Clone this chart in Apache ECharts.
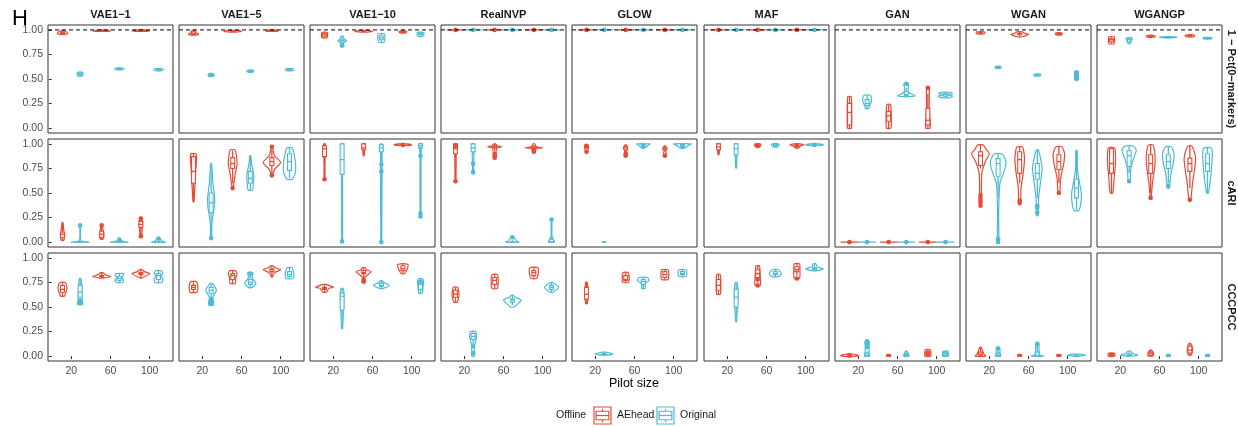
<!DOCTYPE html>
<html><head><meta charset="utf-8">
<script src="https://cdn.jsdelivr.net/npm/echarts@6/dist/echarts.min.js"></script>
<style>html,body{margin:0;padding:0;background:#fff}#c{width:1238px;height:427px}</style>
</head><body><div id="c"></div>
<script>
const methods = ['VAE1\u22121','VAE1\u22125','VAE1\u221210','RealNVP','GLOW','MAF','GAN','WGAN','WGANGP'];
const metrics = ['1 \u2212 Pct(0\u2212markers)','cARI','CCCPCC'];
const pilotSizes = [20, 60, 100];
const offlineGroups = ['AEhead','Original'];
const groupColors = ['#E64B35','#4DBBD5'];
const yTicks = [0, 0.25, 0.5, 0.75, 1];

// each violin: [lowerWhisker, q1, median, q3, upperWhisker, outliers, densityProfile[[y, relDensity]]]
// order per method: (20,AEhead),(20,Original),(60,AEhead),(60,Original),(100,AEhead),(100,Original)
const pctViolins = [
 [[.96,.965,.97,.98,.99,[],[[.955,.35],[.965,.6],[.975,.5],[.99,.25]]],
  [.53,.54,.55,.56,.57,[],[[.53,.25],[.55,.35],[.57,.2]]],
  [.985,.99,.99,.995,1,[],[[.985,.3],[.99,1],[.995,.6],[1,.2]]],
  [.595,.6,.605,.61,.61,[],[[.595,.35],[.605,.55],[.612,.35]]],
  [.985,.99,.99,.995,1,[],[[.985,.3],[.99,1],[1,.3]]],
  [.585,.59,.595,.6,.605,[],[[.585,.35],[.595,.55],[.605,.35]]]],
 [[.95,.955,.96,.98,.99,[],[[.95,.5],[.96,.55],[.97,.3],[.985,.25],[.995,.15]]],
  [.53,.535,.54,.545,.55,[],[[.525,.25],[.54,.35],[.555,.2]]],
  [.98,.985,.985,.99,.995,[],[[.978,.4],[.985,1],[.995,.3]]],
  [.57,.575,.58,.585,.59,[],[[.57,.25],[.58,.4],[.59,.25]]],
  [.985,.99,.99,.995,1,[],[[.985,.3],[.99,.7],[1,.3]]],
  [.59,.59,.595,.6,.6,[],[[.585,.35],[.595,.5],[.605,.35]]]],
 [[.92,.93,.95,.96,.975,[],[[.92,.3],[.95,.35],[.975,.3]]],
  [.86,.875,.89,.9,.93,[.84],[[.835,.2],[.85,.15],[.87,.2],[.89,.5],[.91,.2],[.935,.15]]],
  [.98,.985,.985,.99,1,[],[[.978,.3],[.985,1],[.995,.4]]],
  [.88,.9,.92,.94,.96,[],[[.875,.3],[.92,.4],[.96,.35]]],
  [.97,.975,.98,.985,.99,[],[[.97,.3],[.98,.45],[.99,.3]]],
  [.94,.95,.96,.965,.975,[],[[.935,.3],[.96,.4],[.975,.35]]]],
 [[1,1,1,1,1,[1],[[1,1],[1,1]]],[1,1,1,1,1,[1],[[1,1],[1,1]]],[1,1,1,1,1,[1],[[1,1],[1,1]]],
  [1,1,1,1,1,[1],[[1,1],[1,1]]],[1,1,1,1,1,[1],[[1,1],[1,1]]],[1,1,1,1,1,[1],[[1,1],[1,1]]]],
 [[1,1,1,1,1,[1],[[1,1],[1,1]]],[1,1,1,1,1,[1],[[1,1],[1,1]]],[1,1,1,1,1,[1],[[1,1],[1,1]]],
  [1,1,1,1,1,[1],[[1,1],[1,1]]],[1,1,1,1,1,[1],[[1,1],[1,1]]],[1,1,1,1,1,[1],[[1,1],[1,1]]]],
 [[1,1,1,1,1,[1],[[1,1],[1,1]]],[1,1,1,1,1,[1],[[1,1],[1,1]]],[1,1,1,1,1,[1],[[1,1],[1,1]]],
  [1,1,1,1,1,[1],[[1,1],[1,1]]],[1,1,1,1,1,[1],[[1,1],[1,1]]],[1,1,1,1,1,[1],[[1,1],[1,1]]]],
 [[0,.03,.16,.25,.32,[],[[0,.22],[.16,.25],[.32,.2]]],
  [.2,.23,.25,.29,.33,[],[[.2,.2],[.23,.3],[.26,.45],[.3,.5],[.335,.35]]],
  [0,.07,.125,.17,.24,[],[[0,.25],[.12,.3],[.24,.2]]],
  [.32,.33,.34,.37,.41,[.45],[[.32,.3],[.33,1],[.36,.3],[.41,.2],[.45,.3]]],
  [0,.03,.08,.2,.35,[.41],[[0,.25],[.08,.25],[.2,.15],[.41,.15]]],
  [.31,.325,.34,.355,.365,[],[[.31,.5],[.325,.8],[.34,.3],[.355,.8],[.365,.5]]]],
 [[.965,.97,.97,.975,.98,[],[[.96,.4],[.97,.5],[.98,.4]]],
  [.61,.615,.62,.625,.63,[],[[.61,.25],[.62,.35],[.63,.25]]],
  [.93,.95,.96,.965,.98,[],[[.93,.3],[.955,1],[.965,.6],[.98,.3]]],
  [.535,.54,.54,.545,.55,[],[[.53,.3],[.54,.4],[.55,.3]]],
  [.95,.955,.96,.965,.97,[],[[.95,.3],[.96,.4],[.97,.3]]],
  [.5,.52,.545,.56,.58,[.5,.52,.56],[[.5,.2],[.54,.2],[.58,.2]]]],
 [[.86,.88,.9,.91,.93,[],[[.86,.3],[.9,.35],[.93,.3]]],
  [.86,.88,.9,.91,.92,[],[[.86,.1],[.89,.25],[.915,.35],[.92,.3]]],
  [.93,.933,.935,.94,.945,[],[[.925,.3],[.935,.55],[.945,.3]]],
  [.92,.922,.925,.928,.93,[],[[.918,.4],[.925,1],[.932,.4]]],
  [.93,.935,.94,.945,.95,[],[[.93,.4],[.94,.55],[.95,.4]]],
  [.91,.912,.915,.918,.92,[],[[.908,.45],[.915,.5],[.922,.45]]]]
];

const cariViolins = [
 [[.02,.05,.08,.1,.2,[],[[.02,.15],[.08,.25],[.12,.15],[.2,.05]]],
  [0,0,0,0,0,[.17],[[0,1],[.01,.15],[.05,.03],[.17,.03]]],
  [.03,.05,.08,.11,.15,[.17],[[.03,.15],[.08,.25],[.13,.15],[.17,.05]]],
  [0,0,0,0,0,[.025],[[0,1],[.01,.3],[.03,.1]]],
  [.06,.15,.18,.21,.24,[.06,.24],[[.06,.1],[.15,.15],[.2,.2],[.25,.1]]],
  [0,0,0,0,.01,[.035],[[0,.8],[.01,.4],[.035,.15]]]],
 [[.41,.6,.72,.87,.9,[],[[.41,.05],[.55,.15],[.72,.25],[.85,.35],[.9,.3]]],
  [.08,.3,.4,.5,.8,[.04],[[.04,.05],[.2,.1],[.35,.35],[.45,.4],[.6,.2],[.8,.05]]],
  [.6,.75,.8,.86,.93,[.55],[[.55,.05],[.7,.3],[.8,.5],[.9,.4],[.94,.25]]],
  [.53,.6,.65,.72,.88,[],[[.53,.25],[.6,.35],[.68,.4],[.8,.15],[.88,.05]]],
  [.7,.78,.82,.86,.94,[.68,.97],[[.68,.05],[.74,.3],[.81,1],[.88,.3],[.97,.05]]],
  [.65,.73,.82,.9,.96,[],[[.64,.3],[.7,.65],[.78,.7],[.88,.55],[.96,.3]]]],
 [[.8,.87,.95,.98,1,[.64],[[.64,.05],[.8,.05],[.95,.1],[1,.1]]],
  [.007,.69,.84,1,1,[.007],[[.007,.05],[.69,.05],[.85,.1],[1,.1]]],
  [.88,.94,.96,1,1,[],[[.88,.05],[.96,.12],[1,.12]]],
  [0,.92,.96,.99,1,[.72,.79,0],[[0,.05],[.9,.08],[.97,.12],[1,.1]]],
  [.985,.99,.99,.995,1,[.99],[[.985,.5],[.99,1],[1,.5]]],
  [.26,.96,.98,1,1,[.88,.29,.26],[[.26,.05],[.9,.05],[.98,.12],[1,.12]]]],
 [[.85,.9,.95,1,1,[.62,.98],[[.62,.05],[.9,.08],[.97,.12],[1,.1]]],
  [.9,.92,.96,1,1,[.8,.71],[[.71,.05],[.92,.1],[1,.1]]],
  [.93,.96,.97,.98,1,[.9,.88,.86],[[.86,.1],[.92,.15],[.96,.3],[.97,.8],[.98,.3],[1,.1]]],
  [0,0,0,0,.02,[.05],[[0,.75],[.01,.5],[.03,.3],[.05,.15]]],
  [.94,.955,.96,.97,.99,[.92,.93],[[.92,.1],[.955,.3],[.96,1],[.97,.3],[1,.1]]],
  [0,0,0,.03,.06,[.23],[[0,.35],[.03,.2],[.06,.05],[.23,.05]]]],
 [[.95,.96,.97,.98,.99,[.92,.98],[[.92,.1],[.97,.2],[.99,.15]]],
  [0,0,0,0,0,[],[[0,.15],[0,.15]]],
  [.92,.94,.96,.97,.99,[.88,.9],[[.88,.15],[.92,.1],[.96,.2],[.99,.1]]],
  [.97,.985,.99,1,1,[.97],[[.965,.3],[.985,.5],[1,.75]]],
  [.92,.94,.95,.96,.98,[.88],[[.88,.15],[.93,.1],[.96,.15],[.98,.1]]],
  [.96,.98,.99,1,1,[.97],[[.96,.3],[.98,.6],[1,1]]]],
 [[.89,.94,.97,1,1,[],[[.89,.05],[.95,.12],[1,.12]]],
  [.755,.89,.95,1,1,[],[[.755,.05],[.89,.1],[1,.12]]],
  [.97,.98,.985,.99,1,[.98],[[.97,.25],[.985,.35],[1,.3]]],
  [.97,.98,.99,1,1,[],[[.97,.25],[.99,.45],[1,.3]]],
  [.96,.98,.985,.99,1,[.985],[[.96,.2],[.985,.5],[.99,.8],[1,.3]]],
  [.985,.99,.99,.995,1,[.99],[[.985,.5],[.99,1],[1,.5]]]],
 [[0,0,0,0,0,[0],[[0,1],[0,1]]],[0,0,0,0,0,[0],[[0,1],[0,1]]],[0,0,0,0,0,[0],[[0,1],[0,1]]],
  [0,0,0,0,0,[0],[[0,1],[0,1]]],[0,0,0,0,0,[0],[[0,1],[0,1]]],[0,0,0,0,0,[0],[[0,1],[0,1]]]],
 [[.75,.78,.88,.92,.99,[.37,.4,.42,.45,.48],[[.37,.08],[.5,.1],[.7,.15],[.82,.55],[.9,1],[.95,.6],[.99,.3]]],
  [.45,.67,.8,.85,.9,[0,.03],[[0,.08],[.3,.06],[.6,.2],[.7,.6],[.8,.9],[.85,.8],[.9,.4]]],
  [.6,.7,.84,.92,.97,[.4,.42],[[.38,.1],[.55,.15],[.7,.4],[.85,.55],[.93,.45],[.97,.3]]],
  [.45,.64,.7,.8,.94,[.3,.35,.37],[[.27,.1],[.45,.15],[.6,.35],[.75,.55],[.88,.3],[.94,.1]]],
  [.6,.74,.82,.89,.97,[.5],[[.5,.1],[.65,.2],[.8,.55],[.9,.65],[.97,.35]]],
  [.32,.45,.55,.64,.93,[],[[.32,.25],[.4,.5],[.5,.55],[.6,.35],[.75,.1],[.93,.08]]]],
 [[.5,.7,.8,.95,.96,[],[[.5,.15],[.65,.3],[.8,.45],[.9,.45],[.96,.35]]],
  [.7,.77,.88,.93,.98,[.62],[[.62,.1],[.75,.2],[.85,.5],[.93,.8],[.97,.6],[.98,.3]]],
  [.5,.7,.8,.89,.99,[.45],[[.45,.05],[.6,.2],[.8,.5],[.92,.45],[.99,.25]]],
  [.6,.75,.82,.89,.97,[.57],[[.55,.1],[.7,.3],[.82,.6],[.9,.65],[.97,.35]]],
  [.55,.72,.8,.855,.98,[.43],[[.43,.1],[.6,.3],[.75,.55],[.85,.65],[.92,.5],[.98,.2]]],
  [.5,.72,.8,.9,.96,[],[[.5,.1],[.65,.35],[.8,.5],[.9,.55],[.96,.4]]]]
];

const cccpccViolins = [
 [[.61,.65,.68,.72,.75,[],[[.61,.2],[.65,.4],[.7,.5],[.75,.3]]],
  [.58,.6,.65,.72,.79,[.54,.55,.56],[[.525,.3],[.56,.25],[.65,.2],[.79,.1]]],
  [.795,.805,.81,.82,.85,[],[[.795,.2],[.81,1],[.83,.4],[.85,.1]]],
  [.75,.77,.79,.81,.84,[],[[.75,.3],[.77,.5],[.8,.3],[.83,.5],[.84,.3]]],
  [.795,.83,.84,.85,.88,[],[[.795,.1],[.84,1],[.86,.4],[.88,.15]]],
  [.75,.78,.82,.84,.87,[],[[.75,.4],[.79,.5],[.81,.25],[.84,.5],[.87,.3]]]],
 [[.65,.68,.7,.72,.76,[],[[.65,.4],[.7,.5],[.76,.3]]],
  [.6,.64,.67,.7,.74,[.53,.55,.58],[[.52,.3],[.6,.2],[.67,.6],[.74,.1]]],
  [.74,.78,.82,.84,.87,[],[[.74,.3],[.8,.35],[.84,.5],[.87,.3]]],
  [.7,.73,.75,.78,.84,[.84],[[.7,.2],[.74,.65],[.8,.2],[.85,.3]]],
  [.805,.86,.88,.89,.92,[],[[.805,.05],[.85,.3],[.88,1],[.9,.4],[.92,.1]]],
  [.79,.81,.83,.86,.9,[],[[.79,.4],[.82,.5],[.86,.45],[.9,.3]]]],
 [[.65,.68,.69,.7,.73,[],[[.65,.2],[.69,.5],[.7,1],[.73,.15]]],
  [.28,.47,.61,.64,.69,[],[[.28,.05],[.47,.15],[.65,.2],[.69,.1]]],
  [.8,.84,.85,.87,.9,[.76,.78],[[.75,.2],[.8,.1],[.86,.85],[.88,.3],[.9,.2]]],
  [.69,.71,.72,.74,.77,[],[[.69,.2],[.72,.9],[.75,.3],[.77,.05]]],
  [.84,.87,.89,.92,.94,[],[[.84,.2],[.89,.5],[.93,.6],[.94,.3]]],
  [.64,.68,.73,.76,.79,[.76],[[.64,.2],[.72,.3],[.76,.35],[.79,.2]]]],
 [[.55,.6,.63,.67,.7,[],[[.55,.2],[.63,.4],[.7,.25]]],
  [.12,.17,.2,.23,.25,[.03,.1],[[0,.15],[.1,.15],[.2,.4],[.25,.3]]],
  [.69,.73,.77,.8,.83,[],[[.69,.3],[.77,.4],[.83,.3]]],
  [.52,.55,.57,.58,.62,[],[[.5,.2],[.57,1],[.6,.3],[.62,.1]]],
  [.79,.82,.85,.87,.9,[],[[.79,.3],[.84,.5],[.9,.45]]],
  [.65,.68,.7,.72,.75,[],[[.65,.15],[.7,.8],[.75,.15]]]],
 [[.535,.58,.63,.7,.75,[],[[.535,.1],[.63,.15],[.75,.1]]],
  [.01,.015,.02,.025,.04,[],[[.01,.2],[.02,1],[.04,.2]]],
  [.75,.77,.78,.82,.85,[],[[.75,.3],[.78,.4],[.85,.3]]],
  [.69,.73,.76,.78,.8,[],[[.69,.2],[.74,.2],[.77,.65],[.8,.5]]],
  [.78,.8,.83,.86,.88,[],[[.78,.35],[.83,.45],[.88,.35]]],
  [.81,.83,.84,.86,.88,[],[[.81,.4],[.845,.5],[.88,.4]]]],
 [[.63,.67,.72,.78,.83,[],[[.63,.2],[.72,.27],[.83,.2]]],
  [.35,.5,.6,.68,.75,[],[[.35,.05],[.5,.15],[.65,.2],[.75,.1]]],
  [.75,.8,.84,.88,.92,[.72,.78],[[.72,.3],[.8,.3],[.88,.25],[.92,.2]]],
  [.81,.83,.84,.86,.88,[],[[.81,.4],[.84,.7],[.88,.35]]],
  [.82,.86,.88,.91,.94,[.79],[[.79,.3],[.88,.35],[.94,.3]]],
  [.87,.88,.89,.9,.94,[],[[.87,.3],[.89,1],[.91,.3],[.94,.15]]]],
 [[0,0,.005,.01,.02,[.005],[[-.005,.4],[.005,1],[.02,.3]]],
  [0,0,.01,.03,.05,[.09,.12,.15],[[0,.3],[.02,.25],[.09,.2],[.15,.25]]],
  [0,0,.005,.01,.015,[],[[0,.2],[.015,.2]]],
  [0,0,.01,.02,.05,[],[[0,.3],[.01,.3],[.05,.1]]],
  [0,.01,.03,.05,.065,[.03],[[0,.35],[.03,.35],[.065,.3]]],
  [0,.01,.025,.04,.05,[],[[0,.35],[.025,.3],[.05,.3]]]],
 [[0,.01,.02,.04,.09,[],[[0,.6],[.02,.4],[.05,.25],[.09,.1]]],
  [0,0,.01,.03,.06,[.08],[[0,.3],[.02,.2],[.08,.2]]],
  [0,0,.005,.01,.015,[],[[0,.2],[.015,.2]]],
  [0,0,.01,.04,.1,[.12],[[0,.7],[.01,.3],[.05,.2],[.14,.15]]],
  [0,0,.005,.01,.015,[],[[0,.2],[.015,.2]]],
  [0,0,.005,.01,.02,[],[[0,.4],[.008,1],[.02,.3]]]],
 [[0,.005,.01,.02,.03,[.01],[[0,.35],[.015,.4],[.03,.3]]],
  [0,.005,.01,.02,.05,[],[[0,.3],[.01,1],[.03,.3],[.05,.2]]],
  [0,.01,.03,.04,.06,[],[[0,.3],[.03,.3],[.06,.1]]],
  [0,0,.005,.01,.015,[],[[0,.2],[.015,.2]]],
  [.01,.03,.06,.1,.13,[],[[.01,.15],[.06,.3],[.1,.25],[.13,.1]]],
  [0,0,.005,.01,.015,[],[[0,.2],[.015,.2]]]]
];

const allViolins = [pctViolins, cariViolins, cccpccViolins];

const chart = echarts.init(document.getElementById('c'), null, {renderer: 'canvas'});
const panelLefts = [48, 179, 310, 441, 572, 704, 835, 966, 1097];
const panelTops = [25, 139, 253];
const PW = 125, PH = 108;
const DODGE = 9, HALF = 9, BOXHALF = 2;

function makeRender(violins) {
  return function (params, api) {
    const i = params.dataIndex;
    const v = violins[i];
    const g = i % 2;
    const p = pilotSizes[Math.floor(i / 2)];
    const xv = p + (g ? DODGE : -DODGE);
    const color = groupColors[g];
    const hw = api.size([HALF, 0])[0];
    const bw = api.size([BOXHALF, 0])[0];
    const cx = api.coord([xv, 0])[0];
    const Y = y => api.coord([xv, y])[1];
    const prof = v[6];
    const pts = [];
    prof.forEach(k => pts.push([cx - k[1] * hw, Y(k[0])]));
    for (let j = prof.length - 1; j >= 0; j--) pts.push([cx + prof[j][1] * hw, Y(prof[j][0])]);
    const ch = [];
    ch.push({type: 'polygon', shape: {points: pts, smooth: 0.2}, style: {fill: 'rgba(0,0,0,0)', stroke: color, lineWidth: 1.2}});
    ch.push({type: 'line', shape: {x1: cx, y1: Y(v[0]), x2: cx, y2: Y(v[1])}, style: {stroke: color, lineWidth: 1.3}});
    ch.push({type: 'line', shape: {x1: cx, y1: Y(v[3]), x2: cx, y2: Y(v[4])}, style: {stroke: color, lineWidth: 1.3}});
    ch.push({type: 'rect', shape: {x: cx - bw, y: Y(v[3]), width: 2 * bw, height: Math.max(0.01, Y(v[1]) - Y(v[3]))}, style: {fill: '#fff', stroke: color, lineWidth: 1.1}});
    ch.push({type: 'line', shape: {x1: cx - bw, y1: Y(v[2]), x2: cx + bw, y2: Y(v[2])}, style: {stroke: color, lineWidth: 1.3}});
    v[5].forEach(o => ch.push({type: 'circle', shape: {cx: cx, cy: Y(o), r: 2.3}, style: {fill: color}}));
    return {type: 'group', children: ch};
  };
}

const grids = [], xAxes = [], yAxes = [], series = [], graphics = [];
let gi = 0;
for (let r = 0; r < 3; r++) {
  for (let c = 0; c < 9; c++) {
    grids.push({left: panelLefts[c], top: panelTops[r], width: PW, height: PH, show: true,
      borderColor: '#333', borderWidth: 1, backgroundColor: 'transparent', containLabel: false});
    xAxes.push({type: 'value', gridIndex: gi, min: -3.8, max: 123.8, show: r === 2,
      axisLine: {show: false}, splitLine: {show: false},
      axisTick: {show: true, customValues: pilotSizes, length: 3, lineStyle: {color: '#333'}},
      axisLabel: {show: true, customValues: pilotSizes, color: '#4d4d4d', fontSize: 10.5, margin: 5, fontFamily: 'Liberation Sans'}});
    yAxes.push({type: 'value', gridIndex: gi, min: -0.05, max: 1.05, show: c === 0,
      axisLine: {show: false}, splitLine: {show: false},
      axisTick: {show: true, customValues: yTicks, length: 3, lineStyle: {color: '#333'}},
      axisLabel: {show: true, customValues: yTicks, color: '#4d4d4d', fontSize: 10.5, margin: 5, fontFamily: 'Liberation Sans',
        formatter: v => v.toFixed(2)}});
    const vs = allViolins[r][c];
    series.push({type: 'custom', xAxisIndex: gi, yAxisIndex: gi, renderItem: makeRender(vs),
      data: vs.map((v, i) => [pilotSizes[Math.floor(i / 2)] + (i % 2 ? DODGE : -DODGE), v[2]]),
      encode: {x: 0, y: 1}, silent: true, z: 2, clip: false});
    if (r === 0) {
      series.push({type: 'line', xAxisIndex: gi, yAxisIndex: gi, data: [[-3.8, 1], [123.8, 1]],
        showSymbol: false, symbol: 'none', silent: true, z: 5,
        lineStyle: {color: '#000', width: 1, type: [4, 3]}});
    }
    gi++;
  }
}

methods.forEach((m, c) => graphics.push({type: 'text', x: panelLefts[c] + PW / 2, y: 15,
  style: {text: m, font: 'bold 11px "Liberation Sans"', fill: '#1a1a1a', textAlign: 'center', textVerticalAlign: 'middle'}}));
metrics.forEach((m, r) => graphics.push({type: 'text', x: 1231, y: panelTops[r] + PH / 2, rotation: -Math.PI / 2,
  style: {text: m, font: 'bold 11px "Liberation Sans"', fill: '#1a1a1a', textAlign: 'center', textVerticalAlign: 'middle'}}));
graphics.push({type: 'text', x: 12, y: 19, style: {text: 'H', font: '22px "Liberation Sans"', fill: '#000', textAlign: 'left', textVerticalAlign: 'middle'}});
graphics.push({type: 'text', x: 634, y: 384, style: {text: 'Pilot size', font: '12.5px "Liberation Sans"', fill: '#000', textAlign: 'center', textVerticalAlign: 'middle'}});

// legend
graphics.push({type: 'text', x: 556, y: 415.5, style: {text: 'Offline', font: '10.5px "Liberation Sans"', fill: '#1a1a1a', textAlign: 'left', textVerticalAlign: 'middle'}});
const keyX = [594, 657], labX = [617, 680];
offlineGroups.forEach((gname, g) => {
  const x0 = keyX[g], y0 = 407, s = 17, col = groupColors[g];
  graphics.push({type: 'rect', shape: {x: x0, y: y0, width: s, height: s}, style: {fill: '#fff', stroke: col, lineWidth: 1.2}});
  graphics.push({type: 'line', shape: {x1: x0 + s / 2, y1: y0 + s * 0.1, x2: x0 + s / 2, y2: y0 + s * 0.25}, style: {stroke: col, lineWidth: 1.2}});
  graphics.push({type: 'line', shape: {x1: x0 + s / 2, y1: y0 + s * 0.75, x2: x0 + s / 2, y2: y0 + s * 0.9}, style: {stroke: col, lineWidth: 1.2}});
  graphics.push({type: 'rect', shape: {x: x0 + s * 0.125, y: y0 + s * 0.25, width: s * 0.75, height: s * 0.5}, style: {fill: '#fff', stroke: col, lineWidth: 1.2}});
  graphics.push({type: 'line', shape: {x1: x0 + s * 0.125, y1: y0 + s / 2, x2: x0 + s * 0.875, y2: y0 + s / 2}, style: {stroke: col, lineWidth: 1.2}});
  graphics.push({type: 'text', x: labX[g], y: 415.5, style: {text: gname, font: '10.5px "Liberation Sans"', fill: '#1a1a1a', textAlign: 'left', textVerticalAlign: 'middle'}});
});

chart.setOption({animation: false, backgroundColor: '#fff', grid: grids, xAxis: xAxes, yAxis: yAxes, series: series, graphic: graphics});
</script></body></html>
